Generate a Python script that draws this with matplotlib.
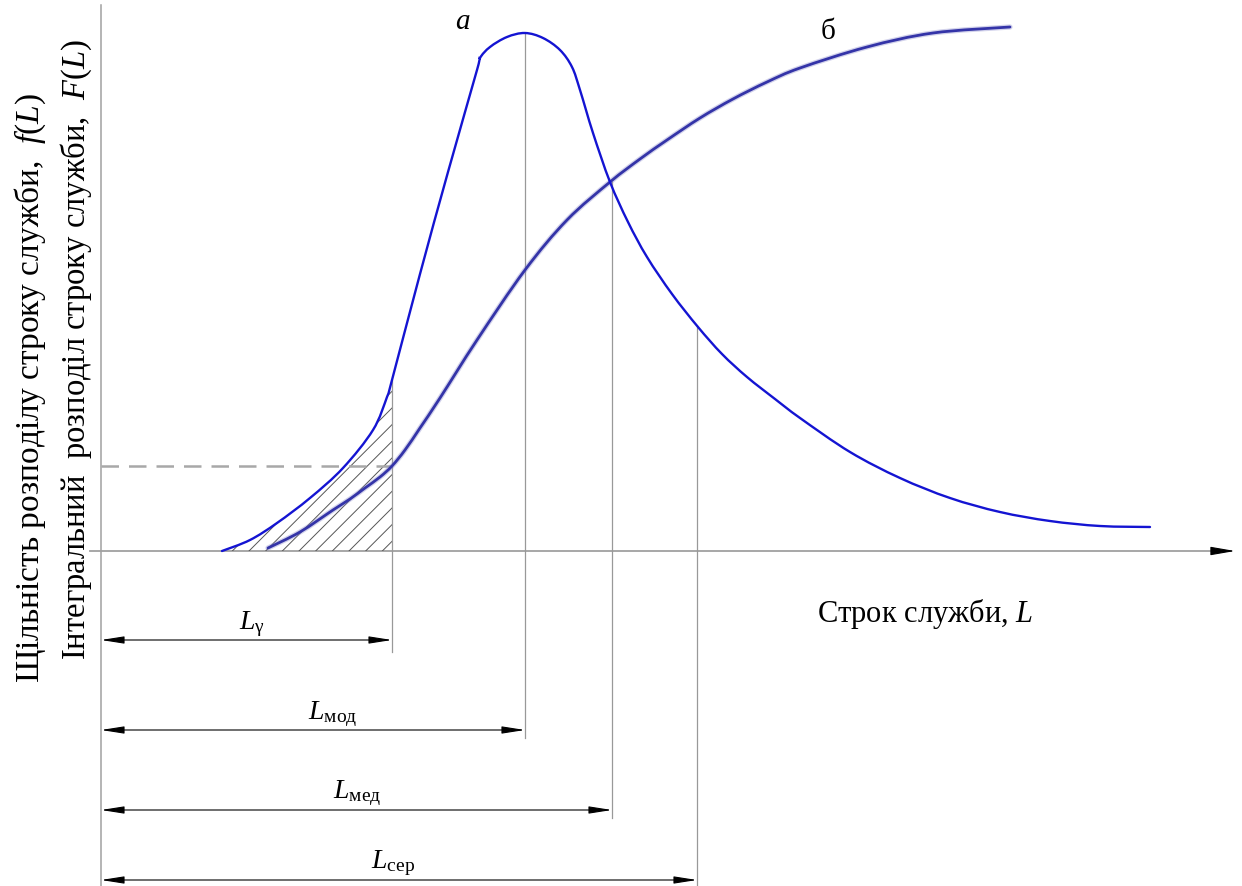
import matplotlib
matplotlib.use("Agg")
import matplotlib.pyplot as plt
from matplotlib.path import Path
from matplotlib.patches import PathPatch
import numpy as np

plt.rcParams['font.family'] = ['Liberation Serif', 'DejaVu Serif']
plt.rcParams['mathtext.fontset'] = 'custom'
plt.rcParams['mathtext.rm'] = 'Liberation Serif'
plt.rcParams['mathtext.it'] = 'Liberation Serif:italic'
plt.rcParams['hatch.linewidth'] = 0.7

# density curve f(L) (curve "a")
L_a = [121, 149, 176, 209, 242, 272, 286, 291, 319, 347, 376, 379, 389, 406, 424,
       442, 459, 471, 479, 492, 509, 527, 546, 571, 597, 621, 646, 674, 699,
       749, 799, 849, 899, 949, 999, 1049]
f_a = [0, 11, 28, 53, 83, 121, 154, 171, 277, 379, 481, 493, 504, 514, 518,
       513, 501, 484, 461, 418, 369, 329, 294, 257, 224, 197, 174, 152, 133,
       99, 73, 53, 39, 30, 25, 24]

# cumulative curve F(L) (curve "б")
L_b = [167, 199, 232, 249, 264, 279, 291, 304, 319, 339, 376, 424, 466, 509,
       539, 566, 599, 632, 666, 699, 766, 832, 909]
F_b = [3, 19, 41, 52, 63, 74, 85, 101, 123, 153, 211, 281, 331, 369,
       392, 411, 433, 452, 469, 483, 504, 518, 524]

# characteristic lifetimes
L_gamma, L_mod, L_med, L_mean = 291, 424, 511, 596
guide_tops = [171, 518, 369, 225]
guide_bottoms = [-101, -187, -267, -335]
arrow_rows = [-89, -179, -259, -329]
labels = [r'$L_{\mathrm{γ}}$', r'$L_{\mathrm{мод}}$', r'$L_{\mathrm{мед}}$', r'$L_{\mathrm{сер}}$']
label_pos = [(151, -73), (232, -163), (256, -242), (292, -312)]
F_gamma = 85


def smooth_path_parts(xs, ys):
    """Vertices and codes of a smooth cubic Bezier path through the points."""
    P = np.column_stack([xs, ys]).astype(float)
    n = len(P)
    verts = [P[0]]
    codes = [Path.MOVETO]
    for i in range(n - 1):
        p0 = P[i - 1] if i > 0 else P[i]
        p1, p2 = P[i], P[i + 1]
        p3 = P[i + 2] if i + 2 < n else P[i + 1]
        verts += [p1 + (p2 - p0) / 6.0, p2 - (p3 - p1) / 6.0, p2]
        codes += [Path.CURVE4] * 3
    return verts, codes


fig = plt.figure(figsize=(12.42, 8.86), dpi=100)
ax = fig.add_axes([0, 0, 1, 1])
ax.set_xlim(-101, 1141)
ax.set_ylim(-335, 551)
ax.axis('off')

gray = '#a0a0a0'
# axes
ax.plot([0, 0], [546, -335], color=gray, lw=1.1, zorder=1)
ax.plot([-11, 1116], [0, 0], color=gray, lw=1.3, zorder=1)
ax.annotate('', xy=(1134, 0), xytext=(1112, 0),
            arrowprops=dict(arrowstyle='-|>,head_length=1.5,head_width=0.26',
                            color='black', lw=0.8, mutation_scale=10,
                            shrinkA=0, shrinkB=0))

# hatched area under f(L) up to L_gamma
La = np.array(L_a)
fa = np.array(f_a)
m = La <= L_gamma
hv, hc = smooth_path_parts(La[m], fa[m])
hv = hv + [np.array([L_gamma, 0.0]), np.array([La[m][0], 0.0]), np.array([La[m][0], 0.0])]
hc = hc + [Path.LINETO, Path.LINETO, Path.CLOSEPOLY]
ax.add_patch(PathPatch(Path(hv, hc), facecolor='none', edgecolor='#555555',
                       hatch='//', linewidth=0, zorder=2))

# dashed level F(L_gamma)
ax.plot([0, L_gamma], [F_gamma, F_gamma], color='#a8a8a8', lw=1.8,
        dashes=(7, 4), zorder=2)

# vertical guides and dimension arrows
Ls = [L_gamma, L_mod, L_med, L_mean]
for Lx, top, bot, row, lab, pos in zip(Ls, guide_tops, guide_bottoms, arrow_rows, labels, label_pos):
    ax.plot([Lx, Lx], [top, bot], color='#999999', lw=0.9, zorder=2)
    ax.annotate('', xy=(Lx, row), xytext=(0, row),
                arrowprops=dict(arrowstyle='<|-|>,head_length=1.4,head_width=0.22',
                                color='black', lw=0.8, mutation_scale=10,
                                shrinkA=0, shrinkB=0), zorder=3)
    ax.text(pos[0], pos[1], lab, fontsize=20, ha='center', va='center')

# curves
bv, bc = smooth_path_parts(L_b, F_b)
ax.add_patch(PathPatch(Path(bv, bc), facecolor='none', edgecolor='#8080c8',
                       lw=3.8, alpha=0.35, capstyle='round', zorder=3))
ax.add_patch(PathPatch(Path(bv, bc), facecolor='none', edgecolor='#3434a8',
                       lw=2.0, capstyle='round', zorder=4))
av, ac = smooth_path_parts(L_a, f_a)
ax.add_patch(PathPatch(Path(av, ac), facecolor='none', edgecolor='#1414d2',
                       lw=1.7, capstyle='round', zorder=5))

# annotations
ax.text(361, 529, 'a', fontsize=21, style='italic', ha='center', va='center')
ax.text(727, 519, 'б', fontsize=21, ha='center', va='center')
ax.text(824, -71, r'Строк служби, $L$', fontsize=22, ha='center', va='baseline')
ax.text(-71, 163, r'Щільність розподілу строку служби,  $f(L)$', fontsize=24,
        rotation=90, ha='center', va='center')
ax.text(-25, 201, r'Інтегральний  розподіл строку служби,  $F(L)$', fontsize=23.5,
        rotation=90, ha='center', va='center')

fig.savefig('out.png', dpi=100)
